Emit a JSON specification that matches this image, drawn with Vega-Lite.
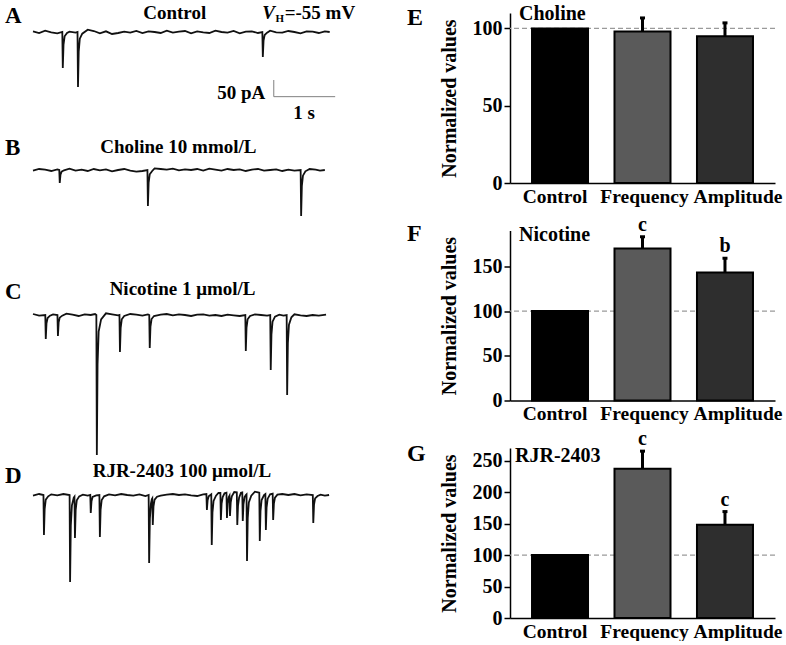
{
  "$schema": "https://vega.github.io/schema/vega-lite/v6.json",
  "background": "white",
  "padding": {"left": 5, "top": 3, "right": 2, "bottom": 0},
  "config": {
    "view": {"stroke": null},
    "font": "Liberation Serif",
    "axis": {
      "domainColor": "#000", "domainWidth": 1.5, "tickColor": "#000", "tickWidth": 1.5,
      "labelColor": "#000", "labelFont": "Liberation Serif", "labelFontWeight": "bold", "labelFontSize": 20,
      "titleColor": "#000", "titleFont": "Liberation Serif", "titleFontWeight": "bold", "titleFontSize": 20,
      "grid": false, "labelOverlap": false, "labelBound": false
    },
    "title": {"font": "Liberation Serif", "fontWeight": "bold", "fontSize": 24, "color": "#000", "anchor": "start", "frame": "group", "offset": 0, "baseline": "alphabetic"},
    "text": {"font": "Liberation Serif", "fontWeight": "bold", "color": "#000"}
  },
  "datasets": {
    "trace": [
      {"panel":"A","t":0,"i":2},{"panel":"A","t":0.1,"i":-3},{"panel":"A","t":0.2,"i":4},{"panel":"A","t":0.3,"i":-1},{"panel":"A","t":0.4,"i":-4},
      {"panel":"A","t":0.482,"i":0},{"panel":"A","t":0.49,"i":-108},{"panel":"A","t":0.502,"i":-38},{"panel":"A","t":0.52,"i":-13},{"panel":"A","t":0.56,"i":-3},
      {"panel":"A","t":0.6,"i":1},{"panel":"A","t":0.7,"i":-2},
      {"panel":"A","t":0.732,"i":0},{"panel":"A","t":0.74,"i":-165},{"panel":"A","t":0.752,"i":-58},{"panel":"A","t":0.77,"i":-20},{"panel":"A","t":0.81,"i":-5},
      {"panel":"A","t":0.9,"i":7},{"panel":"A","t":1.0,"i":3},{"panel":"A","t":1.1,"i":-4},{"panel":"A","t":1.2,"i":2},{"panel":"A","t":1.3,"i":-6},{"panel":"A","t":1.4,"i":-3},{"panel":"A","t":1.5,"i":1},{"panel":"A","t":1.6,"i":-2},{"panel":"A","t":1.7,"i":3},{"panel":"A","t":1.8,"i":-3},{"panel":"A","t":1.9,"i":2},{"panel":"A","t":2.0,"i":0},{"panel":"A","t":2.1,"i":-3},{"panel":"A","t":2.2,"i":4},{"panel":"A","t":2.3,"i":-2},{"panel":"A","t":2.4,"i":1},{"panel":"A","t":2.5,"i":3},{"panel":"A","t":2.6,"i":-4},{"panel":"A","t":2.7,"i":2},{"panel":"A","t":2.8,"i":-1},{"panel":"A","t":2.9,"i":-3},{"panel":"A","t":3.0,"i":4},{"panel":"A","t":3.1,"i":0},{"panel":"A","t":3.2,"i":-2},{"panel":"A","t":3.3,"i":3},{"panel":"A","t":3.4,"i":-4},{"panel":"A","t":3.5,"i":1},{"panel":"A","t":3.6,"i":2},{"panel":"A","t":3.7,"i":-3},
      {"panel":"A","t":3.772,"i":0},{"panel":"A","t":3.78,"i":-75},{"panel":"A","t":3.792,"i":-26},{"panel":"A","t":3.81,"i":-9},{"panel":"A","t":3.85,"i":-2},
      {"panel":"A","t":3.9,"i":4},{"panel":"A","t":4.0,"i":-1},{"panel":"A","t":4.1,"i":-2},{"panel":"A","t":4.2,"i":3},{"panel":"A","t":4.3,"i":0},{"panel":"A","t":4.4,"i":-4},{"panel":"A","t":4.5,"i":2},{"panel":"A","t":4.6,"i":1},{"panel":"A","t":4.7,"i":-3},{"panel":"A","t":4.8,"i":2},{"panel":"A","t":4.88,"i":0},

      {"panel":"B","t":0,"i":-2},{"panel":"B","t":0.1,"i":3},{"panel":"B","t":0.2,"i":1},{"panel":"B","t":0.3,"i":-3},{"panel":"B","t":0.4,"i":2},
      {"panel":"B","t":0.432,"i":0},{"panel":"B","t":0.44,"i":-39},{"panel":"B","t":0.452,"i":-14},{"panel":"B","t":0.47,"i":-5},{"panel":"B","t":0.51,"i":-1},
      {"panel":"B","t":0.6,"i":4},{"panel":"B","t":0.7,"i":-2},{"panel":"B","t":0.8,"i":1},{"panel":"B","t":0.9,"i":-3},{"panel":"B","t":1.0,"i":3},{"panel":"B","t":1.1,"i":-1},{"panel":"B","t":1.2,"i":2},{"panel":"B","t":1.3,"i":-4},{"panel":"B","t":1.4,"i":0},{"panel":"B","t":1.5,"i":3},{"panel":"B","t":1.6,"i":-2},{"panel":"B","t":1.7,"i":-5},{"panel":"B","t":1.8,"i":-3},
      {"panel":"B","t":1.882,"i":0},{"panel":"B","t":1.89,"i":-108},{"panel":"B","t":1.902,"i":-38},{"panel":"B","t":1.92,"i":-13},{"panel":"B","t":1.96,"i":-3},
      {"panel":"B","t":2.0,"i":5},{"panel":"B","t":2.1,"i":3},{"panel":"B","t":2.2,"i":1},{"panel":"B","t":2.3,"i":4},{"panel":"B","t":2.4,"i":-1},{"panel":"B","t":2.5,"i":2},{"panel":"B","t":2.6,"i":0},{"panel":"B","t":2.7,"i":3},{"panel":"B","t":2.8,"i":-2},{"panel":"B","t":2.9,"i":4},{"panel":"B","t":3.0,"i":1},{"panel":"B","t":3.1,"i":-2},{"panel":"B","t":3.2,"i":3},{"panel":"B","t":3.3,"i":0},{"panel":"B","t":3.4,"i":2},{"panel":"B","t":3.5,"i":-3},{"panel":"B","t":3.6,"i":1},{"panel":"B","t":3.7,"i":3},{"panel":"B","t":3.8,"i":-2},{"panel":"B","t":3.9,"i":0},{"panel":"B","t":4.0,"i":2},{"panel":"B","t":4.1,"i":-3},{"panel":"B","t":4.2,"i":1},{"panel":"B","t":4.3,"i":-2},
      {"panel":"B","t":4.402,"i":0},{"panel":"B","t":4.41,"i":-138},{"panel":"B","t":4.422,"i":-48},{"panel":"B","t":4.44,"i":-17},{"panel":"B","t":4.48,"i":-4},
      {"panel":"B","t":4.55,"i":3},{"panel":"B","t":4.65,"i":1},{"panel":"B","t":4.72,"i":-2},{"panel":"B","t":4.8,"i":0},

      {"panel":"C","t":0,"i":3},{"panel":"C","t":0.1,"i":-2},
      {"panel":"C","t":0.202,"i":0},{"panel":"C","t":0.21,"i":-72},{"panel":"C","t":0.222,"i":-25},{"panel":"C","t":0.24,"i":-9},{"panel":"C","t":0.28,"i":-2},
      {"panel":"C","t":0.33,"i":2},
      {"panel":"C","t":0.402,"i":0},{"panel":"C","t":0.41,"i":-63},{"panel":"C","t":0.422,"i":-22},{"panel":"C","t":0.44,"i":-8},{"panel":"C","t":0.48,"i":-2},
      {"panel":"C","t":0.55,"i":4},{"panel":"C","t":0.65,"i":1},{"panel":"C","t":0.75,"i":-3},{"panel":"C","t":0.85,"i":2},{"panel":"C","t":0.95,"i":0},{"panel":"C","t":1.02,"i":3},
      {"panel":"C","t":1.042,"i":0},{"panel":"C","t":1.05,"i":-420},{"panel":"C","t":1.062,"i":-147},{"panel":"C","t":1.08,"i":-50},{"panel":"C","t":1.12,"i":-13},
      {"panel":"C","t":1.2,"i":5},{"panel":"C","t":1.3,"i":2},{"panel":"C","t":1.4,"i":-1},
      {"panel":"C","t":1.422,"i":0},{"panel":"C","t":1.43,"i":-111},{"panel":"C","t":1.442,"i":-39},{"panel":"C","t":1.46,"i":-13},{"panel":"C","t":1.5,"i":-3},
      {"panel":"C","t":1.6,"i":3},{"panel":"C","t":1.7,"i":1},{"panel":"C","t":1.8,"i":-2},{"panel":"C","t":1.89,"i":2},
      {"panel":"C","t":1.912,"i":0},{"panel":"C","t":1.92,"i":-99},{"panel":"C","t":1.932,"i":-35},{"panel":"C","t":1.95,"i":-12},{"panel":"C","t":1.99,"i":-3},
      {"panel":"C","t":2.1,"i":1},{"panel":"C","t":2.2,"i":3},{"panel":"C","t":2.3,"i":-1},{"panel":"C","t":2.4,"i":2},{"panel":"C","t":2.5,"i":0},{"panel":"C","t":2.6,"i":-3},{"panel":"C","t":2.7,"i":1},{"panel":"C","t":2.8,"i":2},{"panel":"C","t":2.9,"i":-2},{"panel":"C","t":3.0,"i":0},{"panel":"C","t":3.1,"i":-3},{"panel":"C","t":3.2,"i":1},{"panel":"C","t":3.3,"i":-1},{"panel":"C","t":3.4,"i":-3},
      {"panel":"C","t":3.492,"i":0},{"panel":"C","t":3.5,"i":-108},{"panel":"C","t":3.512,"i":-38},{"panel":"C","t":3.53,"i":-13},{"panel":"C","t":3.57,"i":-3},
      {"panel":"C","t":3.65,"i":2},{"panel":"C","t":3.75,"i":0},{"panel":"C","t":3.85,"i":-2},
      {"panel":"C","t":3.902,"i":0},{"panel":"C","t":3.91,"i":-165},{"panel":"C","t":3.922,"i":-58},{"panel":"C","t":3.94,"i":-20},{"panel":"C","t":3.98,"i":-5},
      {"panel":"C","t":4.05,"i":1},{"panel":"C","t":4.12,"i":-2},
      {"panel":"C","t":4.172,"i":0},{"panel":"C","t":4.18,"i":-240},{"panel":"C","t":4.192,"i":-84},{"panel":"C","t":4.21,"i":-29},{"panel":"C","t":4.25,"i":-7},
      {"panel":"C","t":4.3,"i":2},{"panel":"C","t":4.4,"i":-1},{"panel":"C","t":4.5,"i":-3},{"panel":"C","t":4.6,"i":0},{"panel":"C","t":4.7,"i":-2},{"panel":"C","t":4.82,"i":1},

      {"panel":"D","t":0,"i":-2},{"panel":"D","t":0.1,"i":3},
      {"panel":"D","t":0.172,"i":0},{"panel":"D","t":0.18,"i":-120},{"panel":"D","t":0.192,"i":-42},{"panel":"D","t":0.21,"i":-14},{"panel":"D","t":0.25,"i":-4},
      {"panel":"D","t":0.3,"i":2},{"panel":"D","t":0.4,"i":-1},{"panel":"D","t":0.5,"i":3},
      {"panel":"D","t":0.602,"i":0},{"panel":"D","t":0.61,"i":-261},{"panel":"D","t":0.622,"i":-91},{"panel":"D","t":0.64,"i":-31},{"panel":"D","t":0.67,"i":-8},
      {"panel":"D","t":0.682,"i":-5},{"panel":"D","t":0.69,"i":-129},{"panel":"D","t":0.702,"i":-45},{"panel":"D","t":0.72,"i":-16},{"panel":"D","t":0.76,"i":-4},
      {"panel":"D","t":0.82,"i":1},{"panel":"D","t":0.9,"i":-2},
      {"panel":"D","t":0.942,"i":0},{"panel":"D","t":0.95,"i":-54},{"panel":"D","t":0.962,"i":-19},{"panel":"D","t":0.98,"i":-6},
      {"panel":"D","t":1.04,"i":-1},
      {"panel":"D","t":1.092,"i":0},{"panel":"D","t":1.1,"i":-126},{"panel":"D","t":1.112,"i":-44},{"panel":"D","t":1.13,"i":-15},{"panel":"D","t":1.17,"i":-4},
      {"panel":"D","t":1.25,"i":2},{"panel":"D","t":1.35,"i":-1},{"panel":"D","t":1.45,"i":3},{"panel":"D","t":1.55,"i":0},{"panel":"D","t":1.65,"i":-2},{"panel":"D","t":1.75,"i":2},{"panel":"D","t":1.85,"i":-3},
      {"panel":"D","t":1.902,"i":0},{"panel":"D","t":1.91,"i":-204},{"panel":"D","t":1.922,"i":-71},{"panel":"D","t":1.94,"i":-25},{"panel":"D","t":1.955,"i":-12},
      {"panel":"D","t":1.962,"i":-10},{"panel":"D","t":1.97,"i":-90},{"panel":"D","t":1.982,"i":-34},{"panel":"D","t":2.0,"i":-14},{"panel":"D","t":2.04,"i":-5},
      {"panel":"D","t":2.1,"i":-2},{"panel":"D","t":2.2,"i":1},{"panel":"D","t":2.3,"i":3},{"panel":"D","t":2.4,"i":0},{"panel":"D","t":2.5,"i":2},{"panel":"D","t":2.6,"i":-1},{"panel":"D","t":2.7,"i":-3},{"panel":"D","t":2.8,"i":2},
      {"panel":"D","t":2.852,"i":3},{"panel":"D","t":2.86,"i":-45},{"panel":"D","t":2.872,"i":-16},{"panel":"D","t":2.89,"i":-4},
      {"panel":"D","t":2.932,"i":2},{"panel":"D","t":2.94,"i":-150},{"panel":"D","t":2.952,"i":-52},{"panel":"D","t":2.97,"i":-18},{"panel":"D","t":3.01,"i":-2},
      {"panel":"D","t":3.05,"i":6},
      {"panel":"D","t":3.082,"i":6},{"panel":"D","t":3.09,"i":-75},{"panel":"D","t":3.102,"i":-26},{"panel":"D","t":3.12,"i":-6},{"panel":"D","t":3.15,"i":5},
      {"panel":"D","t":3.182,"i":7},{"panel":"D","t":3.19,"i":-69},{"panel":"D","t":3.202,"i":-24},{"panel":"D","t":3.22,"i":-6},
      {"panel":"D","t":3.232,"i":-2},{"panel":"D","t":3.24,"i":-63},{"panel":"D","t":3.252,"i":-22},{"panel":"D","t":3.27,"i":-4},{"panel":"D","t":3.31,"i":9},
      {"panel":"D","t":3.352,"i":8},{"panel":"D","t":3.36,"i":-90},{"panel":"D","t":3.372,"i":-32},{"panel":"D","t":3.39,"i":-8},{"panel":"D","t":3.42,"i":7},
      {"panel":"D","t":3.442,"i":8},{"panel":"D","t":3.45,"i":-78},{"panel":"D","t":3.462,"i":-27},{"panel":"D","t":3.48,"i":-6},{"panel":"D","t":3.5,"i":0},
      {"panel":"D","t":3.512,"i":2},{"panel":"D","t":3.52,"i":-198},{"panel":"D","t":3.532,"i":-69},{"panel":"D","t":3.55,"i":-22},{"panel":"D","t":3.59,"i":-2},
      {"panel":"D","t":3.65,"i":10},{"panel":"D","t":3.7,"i":8},
      {"panel":"D","t":3.722,"i":7},{"panel":"D","t":3.73,"i":-138},{"panel":"D","t":3.742,"i":-48},{"panel":"D","t":3.76,"i":-15},{"panel":"D","t":3.8,"i":0},
      {"panel":"D","t":3.822,"i":3},{"panel":"D","t":3.83,"i":-105},{"panel":"D","t":3.842,"i":-37},{"panel":"D","t":3.86,"i":-11},{"panel":"D","t":3.9,"i":2},
      {"panel":"D","t":3.942,"i":4},{"panel":"D","t":3.95,"i":-75},{"panel":"D","t":3.962,"i":-26},{"panel":"D","t":3.98,"i":-8},{"panel":"D","t":4.02,"i":1},
      {"panel":"D","t":4.1,"i":3},{"panel":"D","t":4.2,"i":0},{"panel":"D","t":4.3,"i":3},{"panel":"D","t":4.4,"i":-1},{"panel":"D","t":4.5,"i":2},
      {"panel":"D","t":4.602,"i":0},{"panel":"D","t":4.61,"i":-84},{"panel":"D","t":4.622,"i":-29},{"panel":"D","t":4.64,"i":-10},{"panel":"D","t":4.68,"i":-3},
      {"panel":"D","t":4.73,"i":1},{"panel":"D","t":4.8,"i":-2},{"panel":"D","t":4.87,"i":0}
    ],
    "notes": [
      {"panel":"A","t":2.33,"i":39,"label":"Control"},
      {"panel":"B","t":2.39,"i":51,"label":"Choline 10 mmol/L"},
      {"panel":"C","t":2.46,"i":60,"label":"Nicotine 1 μmol/L"},
      {"panel":"D","t":2.45,"i":54,"label":"RJR-2403 100 μmol/L"}
    ],
    "letters": [
      {"panel":"A","t":-0.46,"i":27,"label":"A"},
      {"panel":"B","t":-0.46,"i":45,"label":"B"},
      {"panel":"C","t":-0.46,"i":48,"label":"C"},
      {"panel":"D","t":-0.46,"i":36,"label":"D"}
    ],
    "scalebar": [
      {"t":3.96,"t2":3.96,"i":-144,"i2":-194},
      {"t":3.96,"t2":4.97,"i":-194,"i2":-194}
    ],
    "scalelabels": [
      {"t":3.82,"i":-200,"label":"50 pA","side":"left"},
      {"t":4.46,"i":-262,"label":"1 s","side":"below"}
    ],
    "vh": [
      {"t":3.77,"i":39,"part":"V"},
      {"t":3.99,"i":29,"part":"H"},
      {"t":4.14,"i":39,"part":"=-55 mV"}
    ],
    "bars": [
      {"panel":"E","cat":"Control","v":100},
      {"panel":"E","cat":"Frequency","v":98,"top":106.8},
      {"panel":"E","cat":"Amplitude","v":95,"top":103.6},
      {"panel":"F","cat":"Control","v":100},
      {"panel":"F","cat":"Frequency","v":170,"top":183,"sig":"c"},
      {"panel":"F","cat":"Amplitude","v":143,"top":159,"sig":"b"},
      {"panel":"G","cat":"Control","v":100},
      {"panel":"G","cat":"Frequency","v":237,"top":265,"sig":"c"},
      {"panel":"G","cat":"Amplitude","v":148,"top":169,"sig":"c"}
    ],
    "conds": [
      {"panel":"E","cat":"Control","y":105.5,"label":"Choline"},
      {"panel":"F","cat":"Control","y":178,"label":"Nicotine"},
      {"panel":"G","cat":"Control","y":247,"label":"RJR-2403"}
    ]
  },
  "spacing": 477,
  "bounds": "flush",
  "hconcat": [
    {
      "spacing": 0,
      "bounds": "flush",
      "vconcat": [
        {
          "width": 304, "height": 120,
          "encoding": {
            "x": {"field": "t", "type": "quantitative", "scale": {"domain": [0, 5], "nice": false, "zero": false}, "axis": null},
            "y": {"field": "i", "type": "quantitative", "scale": {"domain": [-303, 57], "nice": false, "zero": false}, "axis": null}
          },
          "layer": [
            {"data": {"name": "trace"}, "transform": [{"filter": "datum.panel == 'A'"}], "mark": {"type": "line", "color": "#111", "strokeWidth": 1.8}},
            {"data": {"name": "notes"}, "transform": [{"filter": "datum.panel == 'A'"}], "mark": {"type": "text", "fontSize": 19, "align": "center", "baseline": "alphabetic"}, "encoding": {"text": {"field": "label"}}},
            {"data": {"name": "letters"}, "transform": [{"filter": "datum.panel == 'A'"}], "mark": {"type": "text", "fontSize": 23, "align": "left", "baseline": "alphabetic"}, "encoding": {"text": {"field": "label"}}},
            {"data": {"name": "scalebar"}, "mark": {"type": "rule", "stroke": "#808080", "strokeWidth": 1}, "encoding": {"x2": {"field": "t2"}, "y2": {"field": "i2"}}},
            {"data": {"name": "scalelabels"}, "transform": [{"filter": "datum.side == 'left'"}], "mark": {"type": "text", "fontSize": 19, "align": "right", "baseline": "alphabetic"}, "encoding": {"text": {"field": "label"}}},
            {"data": {"name": "scalelabels"}, "transform": [{"filter": "datum.side == 'below'"}], "mark": {"type": "text", "fontSize": 19, "align": "center", "baseline": "alphabetic"}, "encoding": {"text": {"field": "label"}}},
            {"data": {"name": "vh"}, "transform": [{"filter": "datum.part == 'V'"}], "mark": {"type": "text", "fontSize": 19, "fontStyle": "italic", "align": "left", "baseline": "alphabetic"}, "encoding": {"text": {"field": "part"}}},
            {"data": {"name": "vh"}, "transform": [{"filter": "datum.part == 'H'"}], "mark": {"type": "text", "fontSize": 11, "align": "left", "baseline": "alphabetic"}, "encoding": {"text": {"field": "part"}}},
            {"data": {"name": "vh"}, "transform": [{"filter": "datum.part == '=-55 mV'"}], "mark": {"type": "text", "fontSize": 19, "align": "left", "baseline": "alphabetic"}, "encoding": {"text": {"field": "part"}}}
          ]
        },
        {
          "width": 304, "height": 135,
          "encoding": {
            "x": {"field": "t", "type": "quantitative", "scale": {"domain": [0, 5], "nice": false, "zero": false}, "axis": null},
            "y": {"field": "i", "type": "quantitative", "scale": {"domain": [-294, 111], "nice": false, "zero": false}, "axis": null}
          },
          "layer": [
            {"data": {"name": "trace"}, "transform": [{"filter": "datum.panel == 'B'"}], "mark": {"type": "line", "color": "#111", "strokeWidth": 1.8}},
            {"data": {"name": "notes"}, "transform": [{"filter": "datum.panel == 'B'"}], "mark": {"type": "text", "fontSize": 19, "align": "center", "baseline": "alphabetic"}, "encoding": {"text": {"field": "label"}}},
            {"data": {"name": "letters"}, "transform": [{"filter": "datum.panel == 'B'"}], "mark": {"type": "text", "fontSize": 23, "align": "left", "baseline": "alphabetic"}, "encoding": {"text": {"field": "label"}}}
          ]
        },
        {
          "width": 304, "height": 195,
          "encoding": {
            "x": {"field": "t", "type": "quantitative", "scale": {"domain": [0, 5], "nice": false, "zero": false}, "axis": null},
            "y": {"field": "i", "type": "quantitative", "scale": {"domain": [-444, 141], "nice": false, "zero": false}, "axis": null}
          },
          "layer": [
            {"data": {"name": "trace"}, "transform": [{"filter": "datum.panel == 'C'"}], "mark": {"type": "line", "color": "#111", "strokeWidth": 1.8}},
            {"data": {"name": "notes"}, "transform": [{"filter": "datum.panel == 'C'"}], "mark": {"type": "text", "fontSize": 19, "align": "center", "baseline": "alphabetic"}, "encoding": {"text": {"field": "label"}}},
            {"data": {"name": "letters"}, "transform": [{"filter": "datum.panel == 'C'"}], "mark": {"type": "text", "fontSize": 23, "align": "left", "baseline": "alphabetic"}, "encoding": {"text": {"field": "label"}}}
          ]
        },
        {
          "width": 304, "height": 165,
          "encoding": {
            "x": {"field": "t", "type": "quantitative", "scale": {"domain": [0, 5], "nice": false, "zero": false}, "axis": null},
            "y": {"field": "i", "type": "quantitative", "scale": {"domain": [-399, 96], "nice": false, "zero": false}, "axis": null}
          },
          "layer": [
            {"data": {"name": "trace"}, "transform": [{"filter": "datum.panel == 'D'"}], "mark": {"type": "line", "color": "#111", "strokeWidth": 1.8}},
            {"data": {"name": "notes"}, "transform": [{"filter": "datum.panel == 'D'"}], "mark": {"type": "text", "fontSize": 19, "align": "center", "baseline": "alphabetic"}, "encoding": {"text": {"field": "label"}}},
            {"data": {"name": "letters"}, "transform": [{"filter": "datum.panel == 'D'"}], "mark": {"type": "text", "fontSize": 23, "align": "left", "baseline": "alphabetic"}, "encoding": {"text": {"field": "label"}}}
          ]
        }
      ]
    },
    {
      "spacing": 47.5,
      "bounds": "flush",
      "vconcat": [
        {
          "width": 265, "height": 170,
          "title": {"text": "E", "dx": -103, "dy": 30},
          "layer": [
            {"data": {"values": [{"ref": 100}]}, "mark": {"type": "rule", "stroke": "#9a9a9a", "strokeDash": [5, 3], "strokeWidth": 1.2}, "encoding": {"y": {"field": "ref", "type": "quantitative", "scale": {"domain": [0, 110], "nice": false}, "axis": {"values": [0, 50, 100], "tickCount": 3, "labelOverlap": false, "title": "Normalized values", "tickSize": 6, "labelPadding": 2, "titlePadding": 13}}}},
            {"data": {"name": "bars"}, "transform": [{"filter": "datum.panel == 'E'"}], "mark": {"type": "bar", "stroke": "#000", "strokeWidth": 2},
             "encoding": {
               "x": {"field": "cat", "type": "nominal", "scale": {"domain": ["Control", "Frequency", "Amplitude"], "paddingInner": 0.321, "paddingOuter": 0.267},
                     "axis": {"title": null, "labelAngle": 0, "ticks": false, "labelPadding": 4, "labelBaseline": "top", "labelFontSize": 19.5, "labelOffset": {"condition": [{"test": "datum.value == 'Control'", "value": -5}, {"test": "datum.value == 'Amplitude'", "value": 13}], "value": 2}}},
               "y": {"field": "v", "type": "quantitative", "axis": {"values": [0, 50, 100], "tickCount": 3, "labelOverlap": false, "title": "Normalized values", "tickSize": 6, "labelPadding": 2, "titlePadding": 13}},
               "fill": {"field": "cat", "type": "nominal", "scale": {"domain": ["Control", "Frequency", "Amplitude"], "range": ["#000000", "#5a5a5a", "#2e2e2e"]}, "legend": null}
             }},
            {"data": {"name": "bars"}, "transform": [{"filter": "datum.panel == 'E' && datum.top != null"}], "mark": {"type": "rule", "stroke": "#000", "strokeWidth": 3},
             "encoding": {"x": {"field": "cat", "type": "nominal"}, "y": {"field": "v", "type": "quantitative"}, "y2": {"field": "top"}}},
            {"data": {"name": "bars"}, "transform": [{"filter": "datum.panel == 'E' && datum.top != null"}], "mark": {"type": "tick", "color": "#000", "size": 5, "thickness": 3, "opacity": 1},
             "encoding": {"x": {"field": "cat", "type": "nominal"}, "y": {"field": "top", "type": "quantitative"}}},
            {"data": {"name": "conds"}, "transform": [{"filter": "datum.panel == 'E'"}], "mark": {"type": "text", "fontSize": 20, "align": "left", "baseline": "alphabetic", "dx": -41},
             "encoding": {"x": {"field": "cat", "type": "nominal"}, "y": {"field": "y", "type": "quantitative"}, "text": {"field": "label"}}}
          ]
        },
        {
          "width": 265, "height": 170,
          "title": {"text": "F", "dx": -103, "dy": 35},
          "layer": [
            {"data": {"values": [{"ref": 100}]}, "mark": {"type": "rule", "stroke": "#9a9a9a", "strokeDash": [5, 3], "strokeWidth": 1.2}, "encoding": {"y": {"field": "ref", "type": "quantitative", "scale": {"domain": [0, 190], "nice": false}, "axis": {"values": [0, 50, 100, 150], "tickCount": 4, "labelOverlap": false, "title": "Normalized values", "tickSize": 6, "labelPadding": 2, "titlePadding": 13}}}},
            {"data": {"name": "bars"}, "transform": [{"filter": "datum.panel == 'F'"}], "mark": {"type": "bar", "stroke": "#000", "strokeWidth": 2},
             "encoding": {
               "x": {"field": "cat", "type": "nominal", "scale": {"domain": ["Control", "Frequency", "Amplitude"], "paddingInner": 0.321, "paddingOuter": 0.267},
                     "axis": {"title": null, "labelAngle": 0, "ticks": false, "labelPadding": 4, "labelBaseline": "top", "labelFontSize": 19.5, "labelOffset": {"condition": [{"test": "datum.value == 'Control'", "value": -5}, {"test": "datum.value == 'Amplitude'", "value": 13}], "value": 2}}},
               "y": {"field": "v", "type": "quantitative", "axis": {"values": [0, 50, 100, 150], "tickCount": 4, "labelOverlap": false, "title": "Normalized values", "tickSize": 6, "labelPadding": 2, "titlePadding": 13}},
               "fill": {"field": "cat", "type": "nominal", "scale": {"domain": ["Control", "Frequency", "Amplitude"], "range": ["#000000", "#5a5a5a", "#2e2e2e"]}, "legend": null}
             }},
            {"data": {"name": "bars"}, "transform": [{"filter": "datum.panel == 'F' && datum.top != null"}], "mark": {"type": "rule", "stroke": "#000", "strokeWidth": 3},
             "encoding": {"x": {"field": "cat", "type": "nominal"}, "y": {"field": "v", "type": "quantitative"}, "y2": {"field": "top"}}},
            {"data": {"name": "bars"}, "transform": [{"filter": "datum.panel == 'F' && datum.top != null"}], "mark": {"type": "tick", "color": "#000", "size": 5, "thickness": 3, "opacity": 1},
             "encoding": {"x": {"field": "cat", "type": "nominal"}, "y": {"field": "top", "type": "quantitative"}}},
            {"data": {"name": "bars"}, "transform": [{"filter": "datum.panel == 'F' && datum.sig != null"}], "mark": {"type": "text", "fontSize": 20, "align": "center", "baseline": "alphabetic", "dy": -6},
             "encoding": {"x": {"field": "cat", "type": "nominal"}, "y": {"field": "top", "type": "quantitative"}, "text": {"field": "sig"}}},
            {"data": {"name": "conds"}, "transform": [{"filter": "datum.panel == 'F'"}], "mark": {"type": "text", "fontSize": 20, "align": "left", "baseline": "alphabetic", "dx": -41},
             "encoding": {"x": {"field": "cat", "type": "nominal"}, "y": {"field": "y", "type": "quantitative"}, "text": {"field": "label"}}}
          ]
        },
        {
          "width": 265, "height": 170,
          "title": {"text": "G", "dx": -103, "dy": 41},
          "layer": [
            {"data": {"values": [{"ref": 100}]}, "mark": {"type": "rule", "stroke": "#9a9a9a", "strokeDash": [5, 3], "strokeWidth": 1.2}, "encoding": {"y": {"field": "ref", "type": "quantitative", "scale": {"domain": [0, 270], "nice": false}, "axis": {"values": [0, 50, 100, 150, 200, 250], "tickCount": 6, "labelOverlap": false, "title": "Normalized values", "tickSize": 6, "labelPadding": 2, "titlePadding": 13}}}},
            {"data": {"name": "bars"}, "transform": [{"filter": "datum.panel == 'G'"}], "mark": {"type": "bar", "stroke": "#000", "strokeWidth": 2},
             "encoding": {
               "x": {"field": "cat", "type": "nominal", "scale": {"domain": ["Control", "Frequency", "Amplitude"], "paddingInner": 0.321, "paddingOuter": 0.267},
                     "axis": {"title": null, "labelAngle": 0, "ticks": false, "labelPadding": 4, "labelBaseline": "top", "labelFontSize": 19.5, "labelOffset": {"condition": [{"test": "datum.value == 'Control'", "value": -5}, {"test": "datum.value == 'Amplitude'", "value": 13}], "value": 2}}},
               "y": {"field": "v", "type": "quantitative", "axis": {"values": [0, 50, 100, 150, 200, 250], "tickCount": 6, "labelOverlap": false, "title": "Normalized values", "tickSize": 6, "labelPadding": 2, "titlePadding": 13}},
               "fill": {"field": "cat", "type": "nominal", "scale": {"domain": ["Control", "Frequency", "Amplitude"], "range": ["#000000", "#5a5a5a", "#2e2e2e"]}, "legend": null}
             }},
            {"data": {"name": "bars"}, "transform": [{"filter": "datum.panel == 'G' && datum.top != null"}], "mark": {"type": "rule", "stroke": "#000", "strokeWidth": 3},
             "encoding": {"x": {"field": "cat", "type": "nominal"}, "y": {"field": "v", "type": "quantitative"}, "y2": {"field": "top"}}},
            {"data": {"name": "bars"}, "transform": [{"filter": "datum.panel == 'G' && datum.top != null"}], "mark": {"type": "tick", "color": "#000", "size": 5, "thickness": 3, "opacity": 1},
             "encoding": {"x": {"field": "cat", "type": "nominal"}, "y": {"field": "top", "type": "quantitative"}}},
            {"data": {"name": "bars"}, "transform": [{"filter": "datum.panel == 'G' && datum.sig != null"}], "mark": {"type": "text", "fontSize": 20, "align": "center", "baseline": "alphabetic", "dy": -6},
             "encoding": {"x": {"field": "cat", "type": "nominal"}, "y": {"field": "top", "type": "quantitative"}, "text": {"field": "sig"}}},
            {"data": {"name": "conds"}, "transform": [{"filter": "datum.panel == 'G'"}], "mark": {"type": "text", "fontSize": 20, "align": "left", "baseline": "alphabetic", "dx": -45},
             "encoding": {"x": {"field": "cat", "type": "nominal"}, "y": {"field": "y", "type": "quantitative"}, "text": {"field": "label"}}}
          ]
        }
      ]
    }
  ]
}
